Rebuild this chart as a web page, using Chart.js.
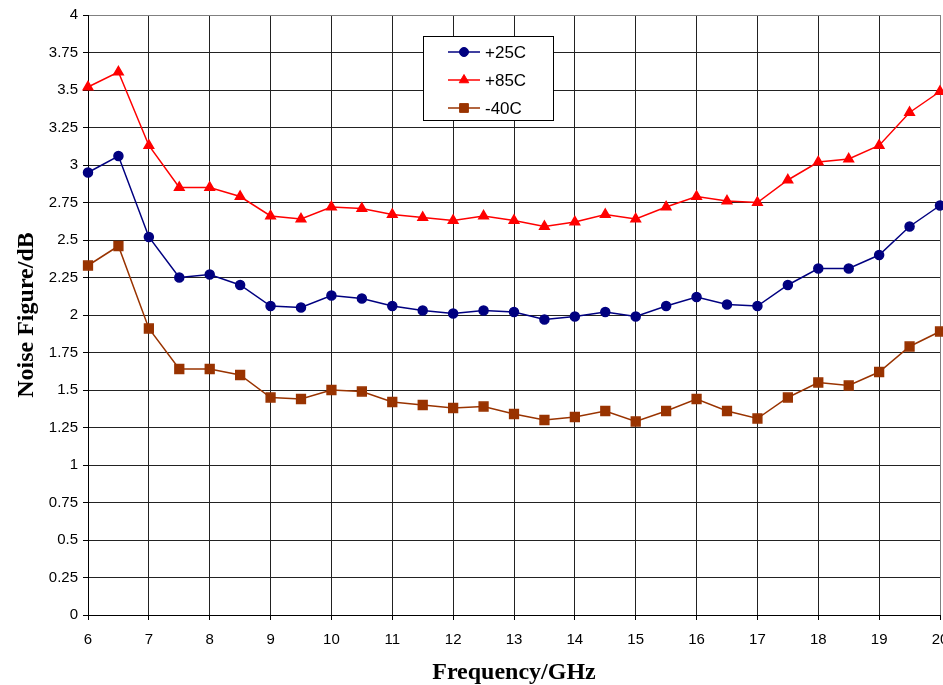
<!DOCTYPE html>
<html>
<head>
<meta charset="utf-8">
<title>Noise Figure vs Frequency</title>
<script src="https://cdn.jsdelivr.net/npm/chart.js@4.4.0/dist/chart.umd.min.js"></script>
<style>
  html, body { margin: 0; padding: 0; background: #fff; }
  #wrap { width: 943px; height: 685px; position: relative; }
</style>
</head>
<body>
<div id="wrap"><canvas id="nfChart"></canvas></div>
<script>
// frequency points (GHz)
const freqGHz = [6, 6.5, 7, 7.5, 8, 8.5, 9, 9.5, 10, 10.5, 11, 11.5, 12, 12.5, 13,
  13.5, 14, 14.5, 15, 15.5, 16, 16.5, 17, 17.5, 18, 18.5, 19, 19.5, 20];

// noise figure (dB) per temperature
const nf25 = [2.95, 3.06, 2.52, 2.25, 2.27, 2.2, 2.06, 2.05, 2.13, 2.11, 2.06, 2.03, 2.01, 2.03, 2.02,
  1.97, 1.99, 2.02, 1.99, 2.06, 2.12, 2.07, 2.06, 2.2, 2.31, 2.31, 2.4, 2.59, 2.73];
const nf85 = [3.52, 3.62, 3.13, 2.85, 2.85, 2.79, 2.66, 2.64, 2.72, 2.71, 2.67, 2.65, 2.63, 2.66, 2.63,
  2.59, 2.62, 2.67, 2.64, 2.72, 2.79, 2.76, 2.75, 2.9, 3.02, 3.04, 3.13, 3.35, 3.49];
const nfMinus40 = [2.33, 2.46, 1.91, 1.64, 1.64, 1.6, 1.45, 1.44, 1.5, 1.49, 1.42, 1.4, 1.38, 1.39, 1.34,
  1.3, 1.32, 1.36, 1.29, 1.36, 1.44, 1.36, 1.31, 1.45, 1.55, 1.53, 1.62, 1.79, 1.89];

const seriesLabels = ["+25C", "+85C", "-40C"];

function toPoints(vals) {
  return vals.map((v, i) => ({ x: freqGHz[i], y: v }));
}

// legend drawn as a boxed panel inside the plot
const boxLegend = {
  id: "boxLegend",
  afterDraw(chart) {
    const ctx = chart.ctx;
    const a = chart.chartArea;
    const x0 = Math.round(a.left + 335), y0 = Math.round(a.top + 21);
    const w = 130, h = 84;
    ctx.save();
    ctx.fillStyle = "#fff";
    ctx.fillRect(x0, y0, w, h);
    ctx.strokeStyle = "#000";
    ctx.lineWidth = 1;
    ctx.strokeRect(x0 + 0.5, y0 + 0.5, w, h);
    chart.data.datasets.forEach((ds, i) => {
      const y = y0 + 16 + i * 28;
      ctx.strokeStyle = ds.borderColor;
      ctx.lineWidth = ds.borderWidth;
      ctx.beginPath();
      ctx.moveTo(x0 + 25, y);
      ctx.lineTo(x0 + 57, y);
      ctx.stroke();
      ctx.fillStyle = ds.backgroundColor;
      ctx.lineWidth = 1;
      Chart.helpers.drawPoint(ctx, { pointStyle: ds.pointStyle, radius: ds.pointRadius, rotation: 0, borderWidth: 1 }, x0 + 41, y);
      ctx.fillStyle = "#000";
      ctx.font = "17px 'Liberation Sans', Arial, sans-serif";
      ctx.textBaseline = "middle";
      ctx.textAlign = "left";
      ctx.fillText(ds.label, x0 + 62, y + 1);
    });
    ctx.restore();
  }
};

const tickFont = { family: "'Liberation Sans', Arial, sans-serif", size: 15 };
const titleFont = { family: "'Liberation Serif', 'Times New Roman', serif", size: 24, weight: "bold" };

new Chart(document.getElementById("nfChart"), {
  type: "line",
  data: {
    datasets: [
      {
        label: seriesLabels[0],
        data: toPoints(nf25),
        borderColor: "#000080",
        backgroundColor: "#000080",
        borderWidth: 1.5,
        pointStyle: "circle",
        pointRadius: 4.5,
        clip: false,
      },
      {
        label: seriesLabels[1],
        data: toPoints(nf85),
        borderColor: "#ff0000",
        backgroundColor: "#ff0000",
        borderWidth: 1.5,
        pointStyle: "triangle",
        pointRadius: 5.5,
        clip: false,
      },
      {
        label: seriesLabels[2],
        data: toPoints(nfMinus40),
        borderColor: "#993300",
        backgroundColor: "#993300",
        borderWidth: 1.5,
        pointStyle: "rect",
        pointRadius: 6.2,
        clip: false,
      },
    ],
  },
  options: {
    responsive: true,
    maintainAspectRatio: false,
    animation: false,
    events: [],
    layout: { autoPadding: false, padding: { top: 15, right: 3, bottom: 0, left: 0 } },
    plugins: {
      legend: { display: false },
      tooltip: { enabled: false },
    },
    scales: {
      x: {
        type: "linear",
        min: 6,
        max: 20,
        ticks: { stepSize: 1, color: "#000", font: tickFont, padding: 11, maxRotation: 0 },
        grid: {
          color: (c) => (c.tick && c.tick.value === 20 ? "#808080" : "#222"),
          tickColor: "#000",
          tickLength: 5,
          lineWidth: 1,
        },
        border: { color: "#000", width: 1 },
        title: { display: true, text: "Frequency/GHz", color: "#000", font: titleFont, padding: { top: 0, bottom: -2 } },
        afterFit(scale) {
          scale.height = 70;
          scale.paddingLeft = 0;
          scale.paddingRight = 0;
        },
      },
      y: {
        min: 0,
        max: 4,
        ticks: {
          stepSize: 0.25,
          color: "#000",
          font: tickFont,
          padding: 5,
          callback: (v) => String(+v.toFixed(2)),
        },
        grid: {
          color: (c) => (c.tick && c.tick.value === 4 ? "#808080" : "#222"),
          tickColor: "#000",
          tickLength: 5,
          lineWidth: 1,
        },
        border: { color: "#000", width: 1 },
        title: { display: true, text: "Noise Figure/dB", color: "#000", font: titleFont, padding: { top: 12, bottom: 0 } },
        afterFit(scale) {
          scale.width = 88;
        },
      },
    },
  },
  plugins: [boxLegend],
});
</script>
</body>
</html>
